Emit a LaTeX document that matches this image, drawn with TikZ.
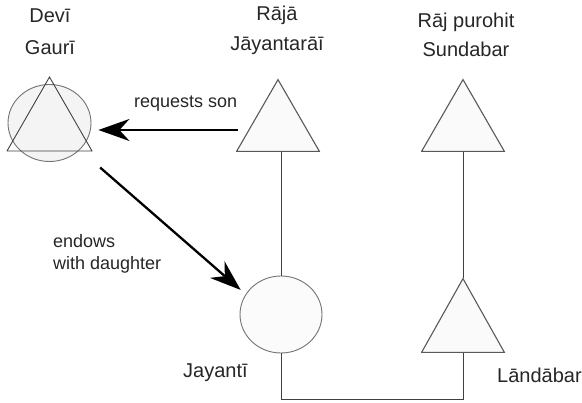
\documentclass[tikz,border=0pt]{standalone}
\usepackage{fontspec}
\setmainfont{Liberation Sans}
\usetikzlibrary{arrows.meta,shapes.geometric}
\begin{document}
\begin{tikzpicture}[x=1pt,y=-1pt,
  personlbl/.style={font=\fontsize{20}{24}\selectfont, text=black!85, inner sep=0pt, anchor=base},
  elabel/.style={font=\fontsize{18}{21}\selectfont, text=black!85, inner sep=0pt, anchor=base west},
  tri/.style={minimum width=84pt, minimum height=73pt, inner sep=0pt,
    path picture={\draw[fill=gray!4, draw=black!65, line width=1.1pt]
      ([shift={(0.6pt,0.6pt)}]path picture bounding box.south west) --
      ([shift={(0pt,-0.6pt)}]path picture bounding box.north) --
      ([shift={(-0.6pt,0.6pt)}]path picture bounding box.south east) -- cycle;}},
  otri/.style={minimum width=86pt, minimum height=75pt, inner sep=0pt,
    path picture={\draw[draw=black!75, line width=0.9pt]
      ([shift={(0.5pt,0.5pt)}]path picture bounding box.south west) --
      ([shift={(0pt,-0.5pt)}]path picture bounding box.north) --
      ([shift={(-0.5pt,0.5pt)}]path picture bounding box.south east) -- cycle;}},
  circ/.style={ellipse, draw=black!55, line width=0.9pt, inner sep=0pt},
  kin/.style={draw=black!75, line width=0.7pt},
  arr/.style={draw=black, line width=2.3pt, -{Stealth[length=31pt, width=22pt, inset=10pt]}}
]
\useasboundingbox (0,0) rectangle (582,403);

% Gauri
\node[circ, fill=gray!9, minimum width=83pt, minimum height=77pt] (gauri) at (49.5,123) {};
\node[otri] (gauritri) at (49.5,114) {};
\node[personlbl] (devi) at (50,23) {Devī};
\node[personlbl] (gaurilbl) at (50,55) {Gaurī};

% Raja
\node[tri] (raja) at (278,115.5) {};
\node[personlbl] (rajalbl1) at (277,21) {Rājā};
\node[personlbl] (rajalbl2) at (277,51) {Jāyantarāī};

% Sundabar
\node[tri] (sund) at (463,115.5) {};
\node[personlbl] (sundlbl1) at (466,28) {Rāj purohit};
\node[personlbl] (sundlbl2) at (466,57) {Sundabar};

% Jayanti
\node[circ, fill=gray!3, minimum width=82pt, minimum height=77pt] (jay) at (281,314.5) {};
\node[personlbl, anchor=base west] (jaylbl) at (183,378) {Jayantī};

% Landabar
\node[tri, minimum height=75pt] (land) at (463,315.5) {};
\node[personlbl, anchor=base west] (landlbl) at (497,383) {Lāndābar};

% kinship lines
\draw[kin] (raja.south -| jay.north) -- (jay.north);
\draw[kin] (sund.south) -- (land.north);
\draw[kin] (jay.south) -- ++(0,46) -| (land.south);

% arrows
\draw[arr] ([shift={(2,14.5)}]raja.west) -- ([shift={(7,7)}]gauri.east);
\node[elabel] (req) at (134,108) {requests son};
\draw[arr] ([shift={(21,17)}]gauri.south east) -- ([shift={(-11,3)}]jay.north west);
\node[elabel] (end1) at (53,248) {endows};
\node[elabel] (end2) at (53,270) {with daughter};
\end{tikzpicture}
\end{document}
